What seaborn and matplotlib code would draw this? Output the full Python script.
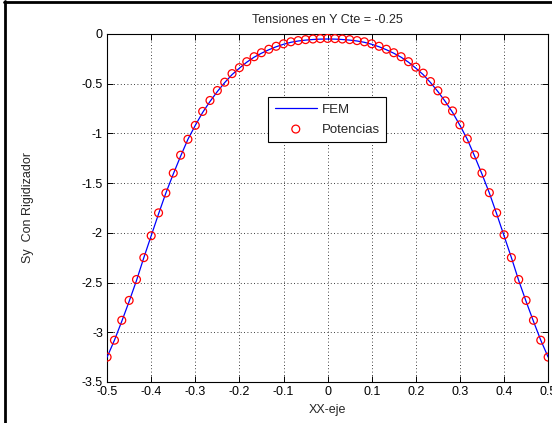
import numpy as np
import pandas as pd
import matplotlib
matplotlib.use("Agg")
import matplotlib.pyplot as plt
from matplotlib.lines import Line2D
import seaborn as sns

# Stress Sy along the line Y = -0.25 (stiffened plate)
x_vals = [
    -0.5, -0.4833, -0.4667, -0.45, -0.4333, -0.4167, -0.4, -0.3833, -0.3667, -0.35,
    -0.3333, -0.3167, -0.3, -0.2833, -0.2667, -0.25, -0.2333, -0.2167, -0.2, -0.1833,
    -0.1667, -0.15, -0.1333, -0.1167, -0.1, -0.0833, -0.0667, -0.05, -0.0333, -0.0167,
    0.0, 0.0167, 0.0333, 0.05, 0.0667, 0.0833, 0.1, 0.1167, 0.1333, 0.15,
    0.1667, 0.1833, 0.2, 0.2167, 0.2333, 0.25, 0.2667, 0.2833, 0.3, 0.3167,
    0.3333, 0.35, 0.3667, 0.3833, 0.4, 0.4167, 0.4333, 0.45, 0.4667, 0.4833, 0.5,
]
fem_vals = [
    -3.25, -3.08, -2.89, -2.69, -2.48, -2.25, -2.03, -1.81, -1.60, -1.41,
    -1.23, -1.06, -0.92, -0.79, -0.68, -0.58, -0.49, -0.41, -0.345, -0.285,
    -0.235, -0.195, -0.16, -0.13, -0.105, -0.085, -0.072, -0.063, -0.057, -0.053,
    -0.052, -0.053, -0.057, -0.063, -0.072, -0.085, -0.105, -0.13, -0.16, -0.195,
    -0.235, -0.285, -0.345, -0.41, -0.49, -0.58, -0.68, -0.79, -0.92, -1.06,
    -1.23, -1.41, -1.60, -1.81, -2.03, -2.25, -2.48, -2.69, -2.89, -3.08, -3.25,
]
pot_vals = [
    -3.25, -3.08, -2.88, -2.68, -2.47, -2.25, -2.03, -1.80, -1.60, -1.40,
    -1.22, -1.06, -0.92, -0.78, -0.67, -0.57, -0.486, -0.40, -0.34, -0.28,
    -0.23, -0.19, -0.155, -0.125, -0.10, -0.08, -0.068, -0.058, -0.052, -0.048,
    -0.046, -0.048, -0.052, -0.058, -0.068, -0.08, -0.10, -0.125, -0.155, -0.19,
    -0.23, -0.28, -0.335, -0.395, -0.48, -0.573, -0.674, -0.775, -0.915, -1.056,
    -1.217, -1.40, -1.597, -1.80, -2.02, -2.25, -2.47, -2.68, -2.88, -3.08, -3.25,
]
x_ticks = [-0.5, -0.4, -0.3, -0.2, -0.1, 0, 0.1, 0.2, 0.3, 0.4, 0.5]
x_tick_labels = ["-0.5", "-0.4", "-0.3", "-0.2", "-0.1", "0", "0.1", "0.2", "0.3", "0.4", "0.5"]
y_ticks = [-3.5, -3, -2.5, -2, -1.5, -1, -0.5, 0]
y_tick_labels = ["-3.5", "-3", "-2.5", "-2", "-1.5", "-1", "-0.5", "0"]

df = pd.DataFrame({"x": x_vals, "fem": fem_vals, "pot": pot_vals})

sns.set_style("ticks")
plt.rcParams["font.family"] = ["Liberation Sans", "DejaVu Sans"]

fig = plt.figure(figsize=(5.52, 4.23), dpi=100)
ax = fig.add_axes([0.194, 0.097, 0.799, 0.823])

sns.lineplot(data=df, x="x", y="fem", ax=ax, color="#0000ff", linewidth=0.9,
             label="FEM", zorder=3)
sns.scatterplot(data=df, x="x", y="pot", ax=ax, marker="o", s=32,
                facecolor="none", edgecolor="#ff0000", linewidth=0.9,
                label="Potencias", zorder=4)

ax.set_xlim(-0.5, 0.5)
ax.set_ylim(-3.5, 0)
ax.set_xticks(x_ticks)
ax.set_xticklabels(x_tick_labels)
ax.set_yticks(y_ticks)
ax.set_yticklabels(y_tick_labels)
ax.tick_params(direction="in", length=4, width=0.7, labelsize=9, colors="black",
               top=True, right=True, pad=3)
ax.grid(True, color="black", linestyle=(0, (1, 3)), linewidth=0.6)
for sp in ax.spines.values():
    sp.set_linewidth(0.8)
    sp.set_color("black")

ax.set_title("Tensiones en Y Cte = -0.25", fontsize=9, pad=8)
ax.set_xlabel("XX-eje", fontsize=9, labelpad=4)
ax.set_ylabel("Sy  Con Rigidizador", fontsize=9, labelpad=34)

leg = ax.legend(loc="upper left", bbox_to_anchor=(0.365, 0.818), fontsize=9.5,
                frameon=True, fancybox=False, edgecolor="black", framealpha=1,
                handlelength=3.2, borderpad=0.5, labelspacing=0.55,
                handletextpad=0.35, borderaxespad=0)
leg.get_frame().set_linewidth(0.8)

# outer frame edges
fig.add_artist(Line2D([0.009, 0.009], [0, 0.997], transform=fig.transFigure,
                      color="black", linewidth=2))
fig.add_artist(Line2D([0.008, 1.0], [0.995, 0.995], transform=fig.transFigure,
                      color="black", linewidth=2))

fig.savefig("out.png", dpi=100)
